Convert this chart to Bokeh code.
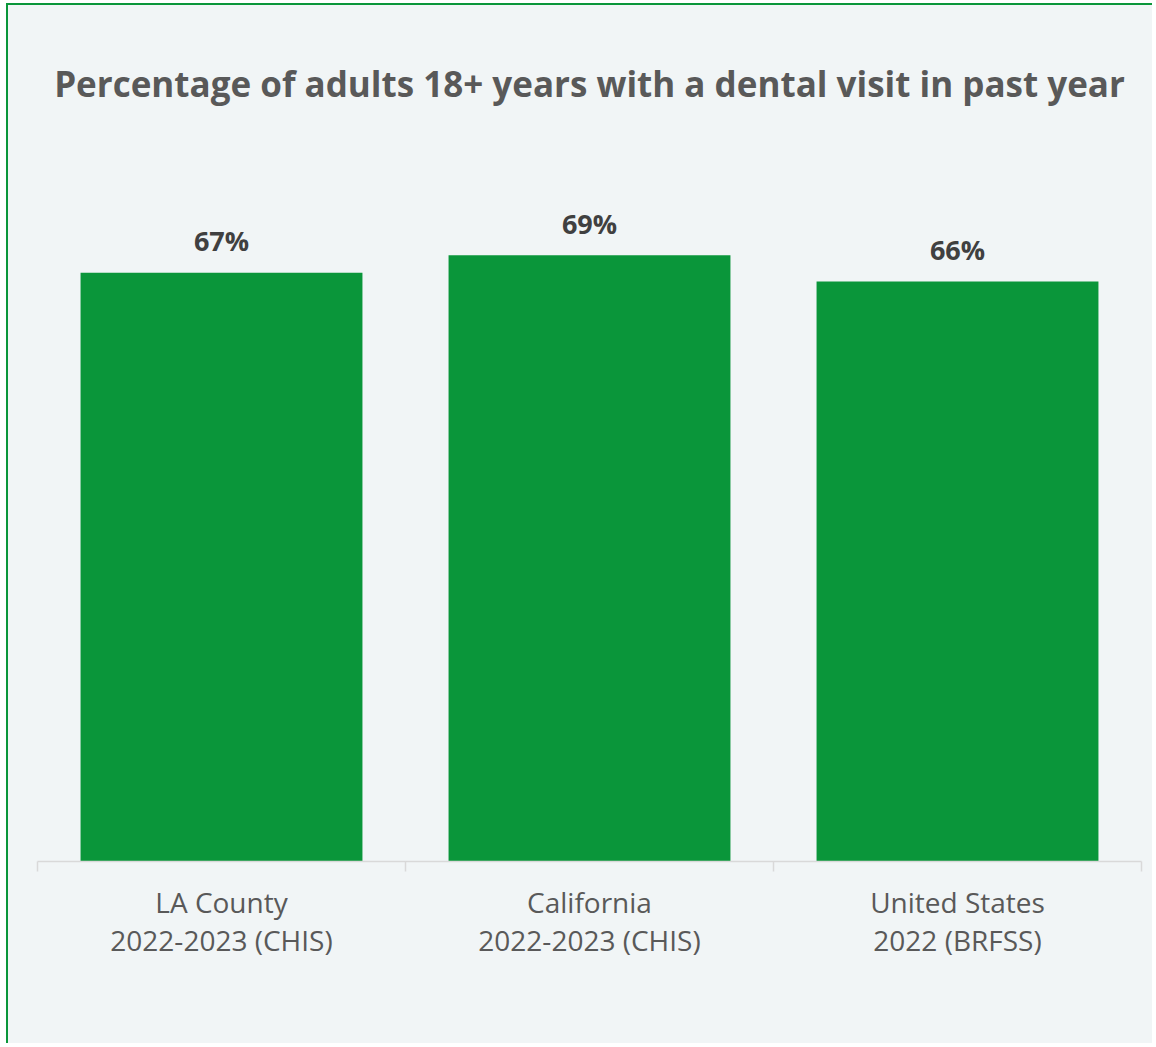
from bokeh.plotting import figure
from bokeh.models import Range1d, FixedTicker, ColumnDataSource
from bokeh.core.properties import value
from bokeh.embed import file_html
from bokeh.resources import INLINE

title = "Percentage of adults 18+ years with a dental visit in past year"
categories = ["LA County\n2022-2023 (CHIS)", "California\n2022-2023 (CHIS)", "United States\n2022 (BRFSS)"]
values = [67, 69, 66]
labels = ["67%", "69%", "66%"]

BG = "#f1f5f6"
GREEN = "#0a963a"

xs = [i + 0.5 for i in range(len(categories))]
src = ColumnDataSource(dict(x=xs, top=values, label=labels))

p = figure(width=1146, height=1040, output_backend="svg", toolbar_location=None,
           x_range=Range1d(0, len(categories)), y_range=Range1d(0, 80),
           min_border_left=29, min_border_right=13, min_border_top=153, min_border_bottom=184,
           background_fill_color=None, border_fill_color=None, outline_line_color=None)
p.styles = {"border-left": "2px solid #0a963a", "border-top": "2px solid #0a963a",
            "margin-left": "6px", "margin-top": "3px", "background-color": BG}

p.title.text = title
p.title.text_font = "Open Sans"
p.title.text_font_style = "bold"
p.title.text_font_size = "35px"
p.title.text_color = "#595959"
p.title.align = "center"
p.title.vertical_align = "top"
p.title.standoff = 100

p.vbar(x="x", top="top", width=0.766, bottom=0, source=src, fill_color=GREEN, line_color=None)
p.text(x="x", y="top", text="label", source=src, text_align="center", text_baseline="middle",
       y_offset=-32, text_font=value("Open Sans"), text_font_style="bold",
       text_font_size="27px", text_color="#404040")

p.yaxis.visible = False
p.grid.visible = False

ax = p.xaxis[0]
ax.ticker = FixedTicker(ticks=xs, minor_ticks=list(range(len(categories) + 1)))
ax.major_label_overrides = {x: c for x, c in zip(xs, categories)}
ax.axis_line_color = "#d9d9d9"
ax.axis_line_width = 1.5
ax.major_tick_out = 0
ax.major_tick_in = 0
ax.minor_tick_out = 10
ax.minor_tick_in = 0
ax.minor_tick_line_color = "#d9d9d9"
ax.minor_tick_line_width = 1.5
ax.major_label_text_font = "Open Sans"
ax.major_label_text_font_size = "28px"
ax.major_label_text_color = "#595959"
ax.major_label_text_line_height = 1.02
ax.major_label_standoff = 11

open("out.html", "w").write(file_html(p, INLINE))
